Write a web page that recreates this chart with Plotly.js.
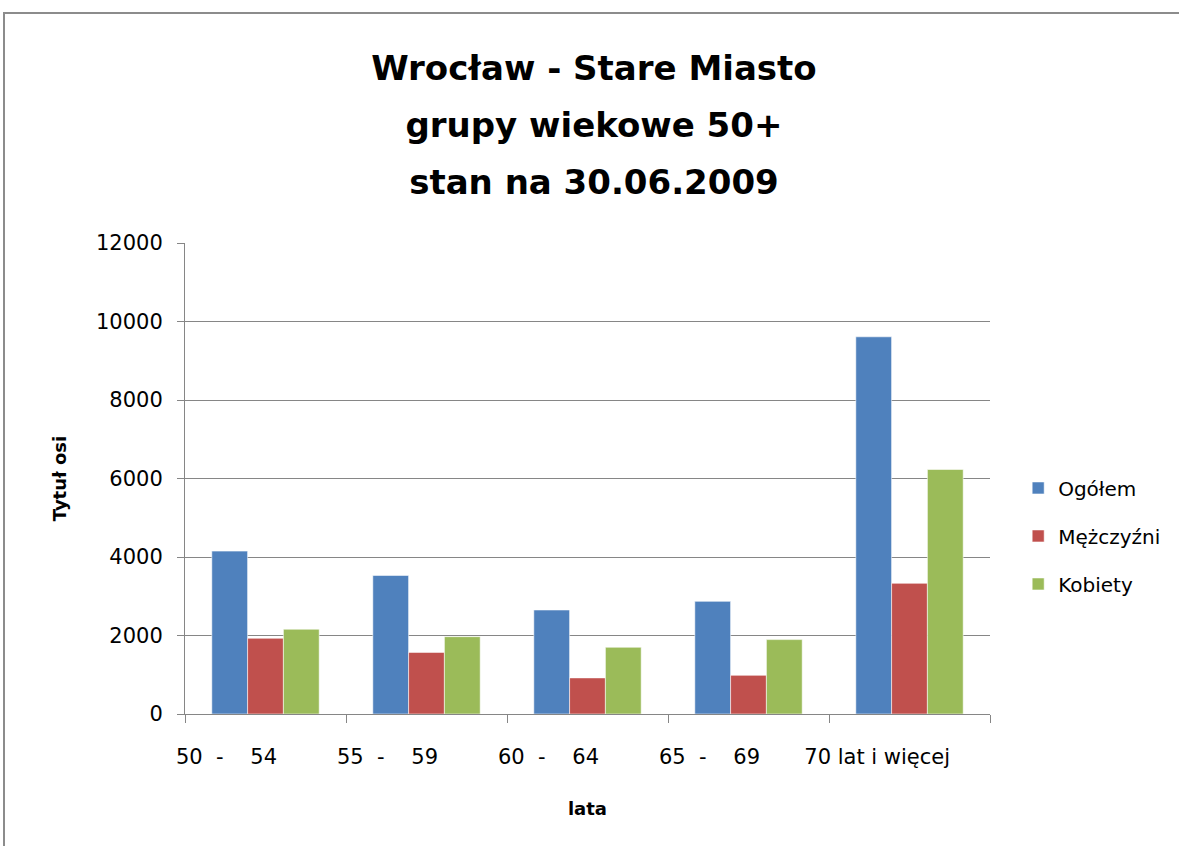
<!DOCTYPE html>
<html>
<head>
<meta charset="utf-8">
<script src="https://cdn.plot.ly/plotly-3.0.1.min.js"></script>
<style>
  html, body { margin: 0; padding: 0; background: #fff; }
  #wrap { position: relative; width: 1179px; height: 846px; overflow: hidden; }
  #chart { position: absolute; left: 0; top: 0; width: 1179px; height: 846px; }
  #frame { position: absolute; left: 3px; top: 12px; width: 1300px; height: 1000px; border: 2px solid #8c8c8c; pointer-events: none; }
</style>
</head>
<body>
<div id="wrap">
  <div id="chart"></div>
  <div id="frame"></div>
</div>
<script>
const categories = ["50 - 54", "55 - 59", "60 - 64", "65 - 69", "70 lat i więcej"];
const tickLabels = ["50\u00a0\u00a0-\u00a0\u00a0\u00a0\u00a054", "55\u00a0\u00a0-\u00a0\u00a0\u00a0\u00a059", "60\u00a0\u00a0-\u00a0\u00a0\u00a0\u00a064", "65\u00a0\u00a0-\u00a0\u00a0\u00a0\u00a069", "\u00a0\u00a070 lat i więcej"];
const ogolem = [4150, 3530, 2650, 2870, 9610];
const mezczyzni = [1930, 1570, 920, 985, 3330];
const kobiety = [2160, 1970, 1700, 1895, 6230];
const seriesNames = ["Ogółem", "Mężczyźni", "Kobiety"];
const seriesColors = ["#4F81BD", "#C0504D", "#9BBB59"];
const yTicks = [0, 2000, 4000, 6000, 8000, 10000, 12000];
const titleLines = ["Wrocław - Stare Miasto", "grupy wiekowe 50+", "stan na 30.06.2009"];

const font = "'DejaVu Sans', sans-serif";
const seriesData = [ogolem, mezczyzni, kobiety];
const traces = seriesData.map((vals, i) => ({
  type: "bar",
  x: categories,
  y: vals,
  name: seriesNames[i],
  legendgroup: "g" + i,
  marker: { color: seriesColors[i], line: { color: "rgba(255,255,255,0.55)", width: 1 } }
}));

const layout = {
  width: 1179, height: 846,
  margin: { l: 185, r: 189, t: 243, b: 132 },
  paper_bgcolor: "rgba(0,0,0,0)",
  plot_bgcolor: "#fff",
  barmode: "group",
  bargap: 0.333,
  bargroupgap: 0,
  font: { family: font, color: "#000", size: 18 },
  title: {
    text: titleLines.map(t => '<span style="font-size:34px">' + t + '</span>').join("<br>"),
    font: { family: font, size: 44, color: "#000", weight: "bold" },
    x: 0.508, xanchor: "center", xref: "paper",
    y: 0.906, yanchor: "top", yref: "container"
  },
  xaxis: {
    type: "category",
    tickmode: "array",
    tickvals: categories,
    ticktext: tickLabels,
    tickson: "boundaries",
    tickangle: 0,
    ticks: "outside", ticklen: 8, tickcolor: "#868686", tickwidth: 1,
    showline: true, linecolor: "#868686", linewidth: 1,
    showgrid: false,
    ticklabelshift: -39,
    ticklabelstandoff: 24,
    tickfont: { family: font, size: 21, color: "#000" },
    title: { text: "<b>lata</b>", font: { family: font, size: 18, color: "#000" }, standoff: 34 }
  },
  yaxis: {
    range: [0, 12000],
    tickvals: yTicks,
    ticktext: yTicks.map(String),
    ticks: "outside", ticklen: 7, tickcolor: "#868686", tickwidth: 1,
    showline: true, linecolor: "#868686", linewidth: 1,
    showgrid: true, gridcolor: "#868686", gridwidth: 1,
    zeroline: false,
    ticklabelstandoff: 10,
    tickfont: { family: font, size: 21, color: "#000" },
    title: { text: "<b>Tytuł osi</b>", font: { family: font, size: 18, color: "#000" }, standoff: 24 }
  },
  showlegend: true,
  legend: {
    x: 1.035, xanchor: "left", y: 0.378, yanchor: "middle",
    font: { family: font, size: 20, color: "#000" },
    tracegroupgap: 19,
    bgcolor: "rgba(0,0,0,0)",
    traceorder: "grouped"
  }
};

Plotly.newPlot("chart", traces, layout, { displayModeBar: false, staticPlot: true });
</script>
</body>
</html>
